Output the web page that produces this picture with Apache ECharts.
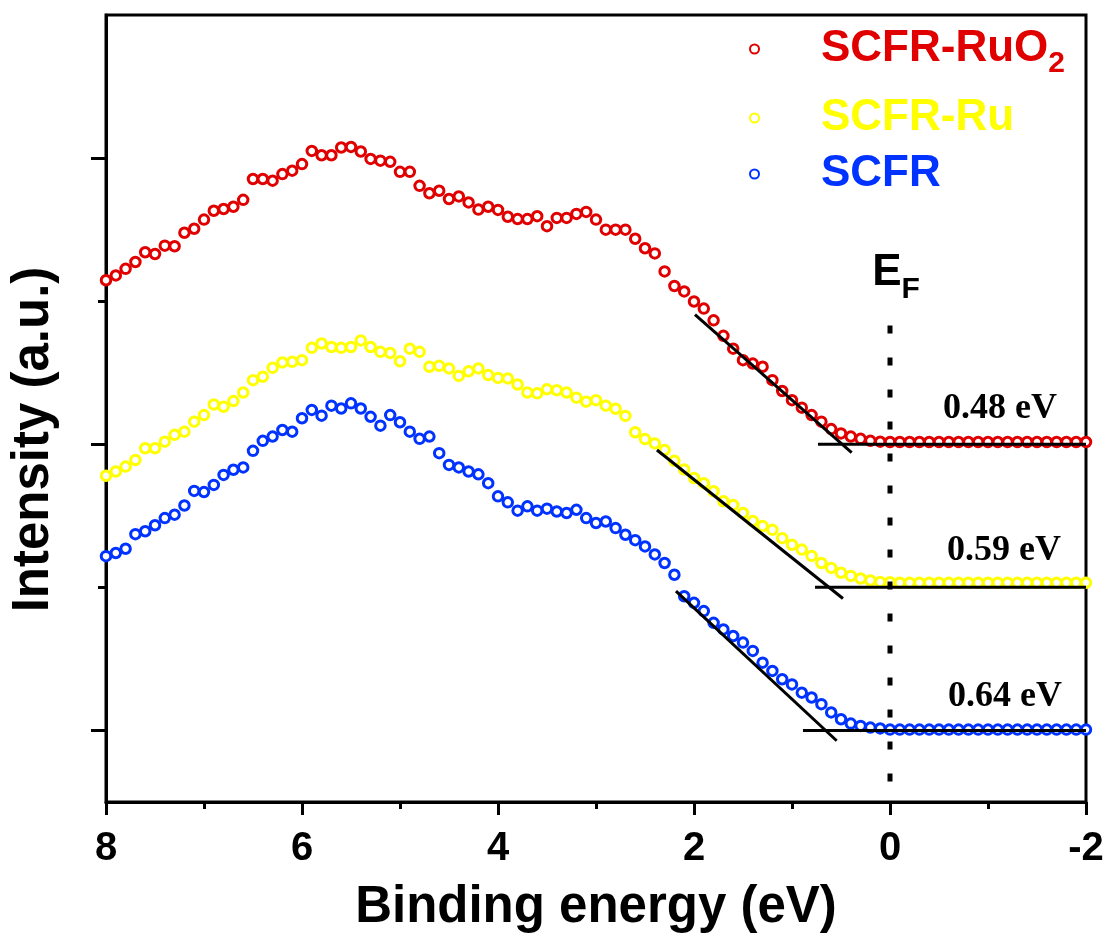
<!DOCTYPE html>
<html>
<head>
<meta charset="utf-8">
<title>VBM</title>
<script src="https://cdn.jsdelivr.net/npm/echarts@6.0.0/dist/echarts.min.js"></script>
<style>
  html, body { margin: 0; padding: 0; background: #fff; }
  #chart { width: 1109px; height: 938px; }
</style>
</head>
<body>
<div id="chart"></div>
<script>
// binding energy grid (eV): one point every 0.1 eV
const energies = [
  8.0, 7.9, 7.8, 7.7, 7.6, 7.5, 7.4, 7.3, 7.2, 7.1,
  7.0, 6.9, 6.8, 6.7, 6.6, 6.5, 6.4, 6.3, 6.2, 6.1,
  6.0, 5.9, 5.8, 5.7, 5.6, 5.5, 5.4, 5.3, 5.2, 5.1,
  5.0, 4.9, 4.8, 4.7, 4.6, 4.5, 4.4, 4.3, 4.2, 4.1,
  4.0, 3.9, 3.8, 3.7, 3.6, 3.5, 3.4, 3.3, 3.2, 3.1,
  3.0, 2.9, 2.8, 2.7, 2.6, 2.5, 2.4, 2.3, 2.2, 2.1,
  2.0, 1.9, 1.8, 1.7, 1.6, 1.5, 1.4, 1.3, 1.2, 1.1,
  1.0, 0.9, 0.8, 0.7, 0.6, 0.5, 0.4, 0.3, 0.2, 0.1,
  0.0, -0.1, -0.2, -0.3, -0.4, -0.5, -0.6, -0.7, -0.8, -0.9,
  -1.0, -1.1, -1.2, -1.3, -1.4, -1.5, -1.6, -1.7, -1.8, -1.9,
  -2.0
]

// SCFR-RuO2 (offset spectrum)
const ruo2Values = [
  1.573, 1.590, 1.613, 1.637, 1.671, 1.665, 1.694, 1.692, 1.739, 1.753,
  1.785, 1.816, 1.822, 1.830, 1.854, 1.927, 1.927, 1.921, 1.944, 1.956,
  1.979, 2.025, 2.010, 2.010, 2.037, 2.039, 2.023, 1.997, 1.991, 1.987,
  1.952, 1.952, 1.903, 1.877, 1.886, 1.857, 1.866, 1.845, 1.820, 1.830,
  1.819, 1.795, 1.787, 1.787, 1.797, 1.762, 1.791, 1.791, 1.805, 1.812,
  1.785, 1.750, 1.750, 1.750, 1.718, 1.685, 1.667, 1.604, 1.553, 1.534,
  1.499, 1.474, 1.433, 1.379, 1.334, 1.294, 1.282, 1.271, 1.224, 1.186,
  1.154, 1.128, 1.102, 1.079, 1.053, 1.038, 1.027, 1.019, 1.012, 1.009,
  1.008, 1.008, 1.008, 1.008, 1.008, 1.008, 1.008, 1.008, 1.008, 1.008,
  1.008, 1.008, 1.008, 1.008, 1.008, 1.008, 1.008, 1.008, 1.008, 1.008,
  1.008
]

// SCFR-Ru
const ruValues = [
  0.890, 0.905, 0.922, 0.945, 0.986, 0.986, 1.009, 1.033, 1.044, 1.079,
  1.102, 1.139, 1.131, 1.151, 1.181, 1.224, 1.236, 1.267, 1.286, 1.288,
  1.294, 1.337, 1.352, 1.340, 1.337, 1.340, 1.363, 1.340, 1.323, 1.319,
  1.290, 1.334, 1.323, 1.271, 1.274, 1.265, 1.239, 1.255, 1.265, 1.242,
  1.232, 1.230, 1.209, 1.181, 1.178, 1.192, 1.189, 1.181, 1.163, 1.149,
  1.154, 1.135, 1.124, 1.099, 1.042, 1.018, 1.003, 0.980, 0.942, 0.912,
  0.882, 0.864, 0.836, 0.801, 0.788, 0.760, 0.732, 0.714, 0.701, 0.672,
  0.649, 0.632, 0.610, 0.585, 0.568, 0.551, 0.540, 0.531, 0.524, 0.519,
  0.518, 0.516, 0.516, 0.516, 0.516, 0.516, 0.516, 0.516, 0.516, 0.516,
  0.516, 0.516, 0.516, 0.516, 0.516, 0.516, 0.516, 0.516, 0.516, 0.516,
  0.516
]

// SCFR
const scfrValues = [
  0.609, 0.620, 0.635, 0.686, 0.696, 0.717, 0.742, 0.754, 0.786, 0.837,
  0.833, 0.858, 0.893, 0.911, 0.919, 0.977, 1.012, 1.027, 1.050, 1.044,
  1.091, 1.120, 1.100, 1.135, 1.125, 1.143, 1.125, 1.096, 1.065, 1.102,
  1.077, 1.044, 1.019, 1.027, 0.969, 0.928, 0.919, 0.905, 0.895, 0.864,
  0.818, 0.797, 0.768, 0.783, 0.768, 0.775, 0.765, 0.760, 0.771, 0.742,
  0.725, 0.730, 0.707, 0.684, 0.665, 0.643, 0.615, 0.585, 0.544, 0.469,
  0.446, 0.417, 0.376, 0.353, 0.330, 0.307, 0.278, 0.237, 0.208, 0.179,
  0.161, 0.132, 0.115, 0.092, 0.063, 0.039, 0.024, 0.016, 0.010, 0.007,
  0.003, 0.003, 0.003, 0.003, 0.003, 0.003, 0.003, 0.003, 0.003, 0.003,
  0.003, 0.003, 0.003, 0.003, 0.003, 0.003, 0.003, 0.003, 0.003, 0.003,
  0.003
]

// leading-edge fits and baselines: [x1, y1, x2, y2]
const ruo2Edge = [1.99, 1.453, 0.391, 0.971]
const ruo2Base = [0.735, 1.0, -2.0, 1.0]
const ruEdge = [2.378, 0.980, 0.480, 0.461]
const ruBase = [0.765, 0.5, -2.0, 0.5]
const scfrEdge = [2.184, 0.487, 0.544, -0.036]
const scfrBase = [0.888, 0.0, -2.0, 0.0]
// Fermi level marker
const fermiLine = [0, 1.415, 0, -0.19]

// onset labels: [x, y, text]
const onsetLabels = [
  [-1.122, 1.125, '0.48 eV'],
  [-1.163, 0.629, '0.59 eV'],
  [-1.173, 0.117, '0.64 eV']
]

// y-axis ticks (no labels)
const majorTicksY = [0, 1, 2]
const minorTicksY = [0.5, 1.5]

const seriesNames = ['SCFR-RuO2', 'SCFR-Ru', 'SCFR']
const seriesColors = ['#e00000', '#ffff00', '#0033ff']

const SANS = 'Liberation Sans, Arial, sans-serif'
const SERIF = 'Liberation Serif, Times New Roman, serif'

const zip = (vals) => energies.map((e, i) => [e, vals[i]])
const seg = (s) => [[s[0], s[1]], [s[2], s[3]]]

const chart = echarts.init(document.getElementById('chart'), null, { renderer: 'canvas' })

// 每个图例一个组件，便于精确定位
function legendItem(idx, top, lineHeight) {
  const c = seriesColors[idx]
  return {
    data: [seriesNames[idx]],
    left: 749,
    top: top,
    padding: 0,
    selectedMode: false,
    itemWidth: 9,
    itemHeight: 9,
    formatter: (name) => {
      if (name === 'SCFR-RuO2') return '{gap| }{m|SCFR-RuO}{s|2}'
      return '{gap| }{m|' + name + '}'
    },
    textStyle: {
      color: c,
      fontFamily: SANS,
      fontWeight: 'bold',
      fontSize: 44,
      rich: {
        gap: { width: 57, lineHeight: 44 },
        m: { color: c, fontFamily: SANS, fontWeight: 'bold', fontSize: 44, lineHeight: lineHeight },
        s: { color: c, fontFamily: SANS, fontWeight: 'bold', fontSize: 30, lineHeight: 30, verticalAlign: 'bottom' }
      }
    }
  }
}

const blackLine = (data, width, type) => ({
  type: 'line',
  data: data,
  symbol: 'none',
  silent: true,
  z: 5,
  lineStyle: { color: '#000', width: width, type: type || 'solid' }
})

const option = {
  animation: false,
  backgroundColor: '#fff',
  grid: {
    left: 106,
    right: 23,
    top: 15,
    bottom: 132,
    show: true,
    borderColor: '#000',
    borderWidth: 3
  },
  legend: [
    legendItem(0, 27, 60),
    legendItem(1, 96, 44),
    legendItem(2, 152, 44)
  ],
  xAxis: {
    type: 'value',
    inverse: true,
    min: -2,
    max: 8,
    interval: 2,
    name: 'Binding energy (eV)',
    nameLocation: 'middle',
    nameGap: 80,
    nameTextStyle: { fontFamily: SANS, fontWeight: 'bold', fontSize: 51, color: '#000' },
    axisLine: { onZero: false, lineStyle: { color: '#000', width: 3 } },
    axisTick: { length: 13, lineStyle: { color: '#000', width: 3 } },
    minorTick: { show: true, splitNumber: 2, length: 7, lineStyle: { color: '#000', width: 3 } },
    axisLabel: { fontFamily: SANS, fontWeight: 'bold', fontSize: 40, color: '#000', margin: 27 },
    splitLine: { show: false }
  },
  yAxis: [
    {
      type: 'value',
      min: -0.25,
      max: 2.5,
      name: 'Intensity (a.u.)',
      nameLocation: 'middle',
      nameGap: 47,
      nameTextStyle: {
        fontFamily: SANS, fontWeight: 'bold', fontSize: 51, color: '#000',
        padding: [0, 62, 0, 0]
      },
      axisLine: { show: true, onZero: false, lineStyle: { color: '#000', width: 3 } },
      axisTick: { show: true, customValues: majorTicksY, length: 15, lineStyle: { color: '#000', width: 3 } },
      axisLabel: { show: false },
      splitLine: { show: false }
    },
    {
      type: 'value',
      position: 'left',
      min: -0.25,
      max: 2.5,
      axisLine: { show: false, onZero: false },
      axisTick: { show: true, customValues: minorTicksY, length: 8, lineStyle: { color: '#000', width: 3 } },
      axisLabel: { show: false },
      splitLine: { show: false }
    }
  ],
  series: [
    ...seriesNames.map((name, i) => ({
      name: name,
      type: 'scatter',
      symbol: 'circle',
      symbolSize: 9.5,
      itemStyle: { color: '#fff', borderColor: seriesColors[i], borderWidth: 3, opacity: 1 },
      data: zip([ruo2Values, ruValues, scfrValues][i])
    })),
    blackLine(seg(ruo2Edge), 3),
    blackLine(seg(ruo2Base), 3),
    blackLine(seg(ruEdge), 3),
    blackLine(seg(ruBase), 3),
    blackLine(seg(scfrEdge), 3),
    blackLine(seg(scfrBase), 3),
    blackLine(seg(fermiLine), 5, [8, 24]),
    {
      type: 'scatter',
      symbolSize: 0,
      silent: true,
      z: 6,
      itemStyle: { opacity: 1 },
      data: onsetLabels,
      label: {
        show: true,
        position: 'inside',
        formatter: (p) => p.value[2],
        fontFamily: SERIF,
        fontWeight: 'bold',
        fontSize: 36,
        color: '#000'
      }
    },
    {
      type: 'scatter',
      symbolSize: 0,
      silent: true,
      z: 6,
      itemStyle: { opacity: 1 },
      data: [[-0.061, 1.599]],
      label: {
        show: true,
        position: 'inside',
        formatter: '{e|E}{f|F}',
        rich: {
          e: { fontFamily: SANS, fontWeight: 'bold', fontSize: 44, lineHeight: 64, color: '#000' },
          f: { fontFamily: SANS, fontWeight: 'bold', fontSize: 30, lineHeight: 30, verticalAlign: 'bottom', color: '#000' }
        }
      }
    }
  ]
}

chart.setOption(option)
</script>
</body>
</html>
